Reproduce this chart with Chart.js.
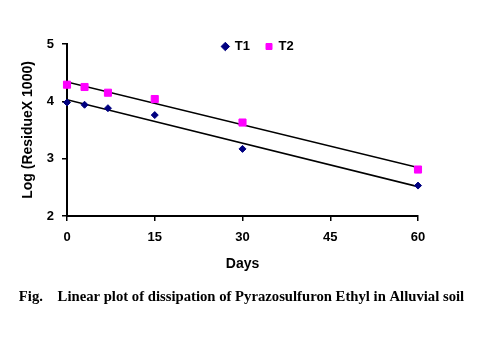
<!DOCTYPE html>
<html>
<head>
<meta charset="utf-8">
<script src="https://cdn.jsdelivr.net/npm/chart.js"></script>
<style>
  html, body { margin: 0; padding: 0; background: #fff; }
  #wrap { position: relative; width: 492px; height: 338px; }
</style>
</head>
<body>
<div id="wrap"><canvas id="residueChart"></canvas></div>
<script>
// data
const days = [0, 3, 7, 15, 30, 60];
const t1Values = [3.98, 3.94, 3.88, 3.76, 3.17, 2.53];
const t2Values = [4.29, 4.25, 4.15, 4.04, 3.63, 2.81];
const seriesNames = ["T1", "T2"];
const xTicks = [0, 15, 30, 45, 60];
const yTicks = [2, 3, 4, 5];

const boldSans = "'Liberation Sans', Arial, sans-serif";

// least squares line over the x range (like an Excel linear trendline)
function trendLine(xs, ys) {
    const n = xs.length;
    const mx = xs.reduce((a, b) => a + b, 0) / n;
    const my = ys.reduce((a, b) => a + b, 0) / n;
    let sxy = 0, sxx = 0;
    xs.forEach((x, i) => {
        sxy += (x - mx) * (ys[i] - my);
        sxx += (x - mx) * (x - mx);
    });
    const slope = sxy / sxx;
    const b = my - slope * mx;
    const x0 = xTicks[0], x1 = xTicks[xTicks.length - 1];
    return [{ x: x0, y: b + slope * x0 }, { x: x1, y: b + slope * x1 }];
}

function points(ys) {
    return days.map((d, i) => ({ x: d, y: ys[i] }));
}

// move legend / caption to where they sit in the figure
const nudgeBoxes = {
    id: "nudgeBoxes",
    afterLayout(chart) {
        const lg = chart.legend;
        const dy = 24 - lg.top;
        lg.left += 44; lg.right += 44;
        lg.top += dy; lg.bottom += dy;
        // caption spans the whole page width, not just the plot
        const tb = chart.titleBlock;
        tb.left = 0; tb.right = 483;
        tb.width = tb.right - tb.left;
    }
};

const ctx = document.getElementById("residueChart").getContext("2d");
new Chart(ctx, {
    type: "scatter",
    data: {
        datasets: [
            {
                label: seriesNames[0],
                data: points(t1Values),
                pointStyle: "rectRot",
                pointRadius: 3.5,
                backgroundColor: "#000080",
                borderColor: "#000080",
                borderWidth: 1,
                clip: false,
                order: 1
            },
            {
                label: seriesNames[1],
                data: points(t2Values),
                pointStyle: "rect",
                pointRadius: 5,
                backgroundColor: "#ff00ff",
                borderColor: "#ff00ff",
                borderWidth: 1,
                clip: false,
                order: 1
            },
            {
                label: "trend1",
                data: trendLine(days, t1Values),
                showLine: true,
                borderColor: "#000",
                borderWidth: 1.6,
                pointRadius: 0,
                order: 2
            },
            {
                label: "trend2",
                data: trendLine(days, t2Values),
                showLine: true,
                borderColor: "#000",
                borderWidth: 1.6,
                pointRadius: 0,
                order: 2
            }
        ]
    },
    options: {
        responsive: true,
        maintainAspectRatio: false,
        animation: false,
        layout: { padding: { top: 5, left: 10, right: 74, bottom: 23 } },
        plugins: {
            legend: {
                position: "top",
                labels: {
                    usePointStyle: true,
                    boxWidth: 6,
                    boxHeight: 6,
                    padding: 16,
                    color: "#000",
                    font: { family: boldSans, size: 13, weight: "bold" },
                    filter: item => seriesNames.includes(item.text)
                }
            },
            title: {
                display: true,
                position: "bottom",
                text: "Fig.    Linear plot of dissipation of Pyrazosulfuron Ethyl in Alluvial soil",
                color: "#000",
                font: { family: "'Liberation Serif', 'Times New Roman', serif", size: 14.7, weight: "bold" },
                padding: { top: 12, bottom: 9 }
            },
            tooltip: { enabled: false }
        },
        scales: {
            x: {
                type: "linear",
                min: xTicks[0],
                max: xTicks[xTicks.length - 1],
                afterBuildTicks: s => { s.ticks = xTicks.map(v => ({ value: v })); },
                border: { color: "#000", width: 2 },
                grid: { drawOnChartArea: false, color: "#000", lineWidth: 1.5, tickLength: 5 },
                ticks: { padding: 9, color: "#000", maxRotation: 0, font: { family: boldSans, size: 13, weight: "bold" } },
                title: {
                    display: true,
                    text: "Days",
                    color: "#000",
                    font: { family: boldSans, size: 14, weight: "bold" },
                    padding: { top: 1, bottom: 4 }
                }
            },
            y: {
                min: yTicks[0],
                max: yTicks[yTicks.length - 1],
                afterBuildTicks: s => { s.ticks = yTicks.map(v => ({ value: v })); },
                afterFit: s => { s.width = 57; },
                border: { color: "#000", width: 2 },
                grid: { drawOnChartArea: false, color: "#000", lineWidth: 1.5, tickLength: 5 },
                ticks: { padding: 8, color: "#000", font: { family: boldSans, size: 13, weight: "bold" } },
                title: {
                    display: true,
                    text: "Log (ResidueX 1000)",
                    color: "#000",
                    font: { family: boldSans, size: 14, weight: "bold" },
                    padding: { top: 10, bottom: 4 }
                }
            }
        }
    },
    plugins: [nudgeBoxes]
});
</script>
</body>
</html>
